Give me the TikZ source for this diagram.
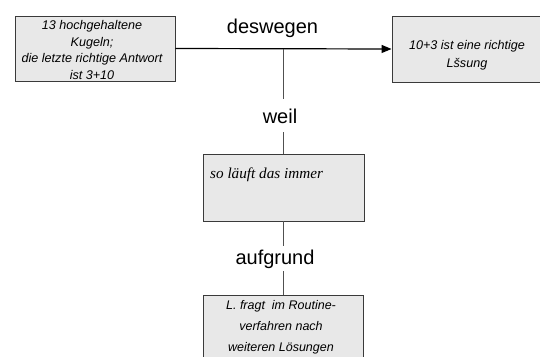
\documentclass[tikz,border=0pt]{standalone}
\usepackage{fontspec}
\setmainfont{Liberation Sans}
\newfontfamily\serifface{Liberation Serif}
\usetikzlibrary{arrows.meta,shadows}

\definecolor{boxfill}{HTML}{E8E8E8}
\definecolor{boxline}{HTML}{3A3A3A}
\definecolor{stem}{HTML}{505050}

\tikzset{
  card/.style={draw=boxline, line width=0.9pt, fill=boxfill, inner sep=0pt,
    drop shadow={shadow xshift=0.9pt, shadow yshift=-0.9pt, fill=black!55, opacity=1}},
  cardtext/.style={font=\fontsize{12.6}{16.8}\selectfont\itshape, align=center, inner sep=0pt},
  relation/.style={font=\fontsize{20}{24}\selectfont, inner xsep=0pt},
  stemline/.style={draw=stem, line width=0.8pt},
  mainarrow/.style={draw=black, line width=1.2pt, -{Triangle[length=10pt,width=8pt]}}
}

\begin{document}
\begin{tikzpicture}[x=1pt,y=-1pt]
  \useasboundingbox (0,0) rectangle (540,356);
  \clip (0,0) rectangle (540,356);

  % top row: cause and consequence
  \node[card, minimum width=160pt, minimum height=65pt] (start) at (95,48.5) {};
  \node[cardtext] (starttxt) at (92,50)
    {13 hochgehaltene\\Kugeln;\\die letzte richtige Antwort\\ist 3+10};

  \node[card, minimum width=150pt, minimum height=66pt] (goal) at (467,49) {};
  \node[cardtext, font=\fontsize{12.6}{18}\selectfont\itshape] (goaltxt) at (467,55)
    {10+3 ist eine richtige\\Lšsung};

  \draw[mainarrow] (start.east) -- (goal.west);
  \node[relation, anchor=base] (deswegen) at (272.5,33) {deswegen};
  \coordinate (j) at (283,49);

  % middle reason
  \node[relation, anchor=base, inner ysep=9pt] (weil) at (280,123) {weil};
  \node[card, minimum width=161pt, minimum height=67pt] (mid) at (283.5,187.5) {};
  \node[anchor=base west, inner sep=0pt, font=\fontsize{15.2}{18}\serifface\itshape]
    (midtxt) at (210,178) {so läuft das immer};

  % bottom reason
  \node[relation, anchor=base, inner ysep=3pt] (aufgrund) at (275,264) {aufgrund};
  \node[card, minimum width=160pt, minimum height=80pt, anchor=north] (bot) at (283,295) {};
  \node[cardtext, font=\fontsize{12.5}{21}\selectfont\itshape, anchor=north] (bottxt) at (281,300.5)
    {L. fragt\ \ im Routine-\\verfahren nach\\weiteren Lösungen};

  % connecting stems
  \draw[stemline] (j) -- (j |- weil.north);
  \draw[stemline] (j |- weil.south) -- (j |- mid.north);
  \draw[stemline] (j |- mid.south) -- (j |- aufgrund.north);
  \draw[stemline] (j |- aufgrund.south) -- (j |- bot.north);
\end{tikzpicture}
\end{document}
